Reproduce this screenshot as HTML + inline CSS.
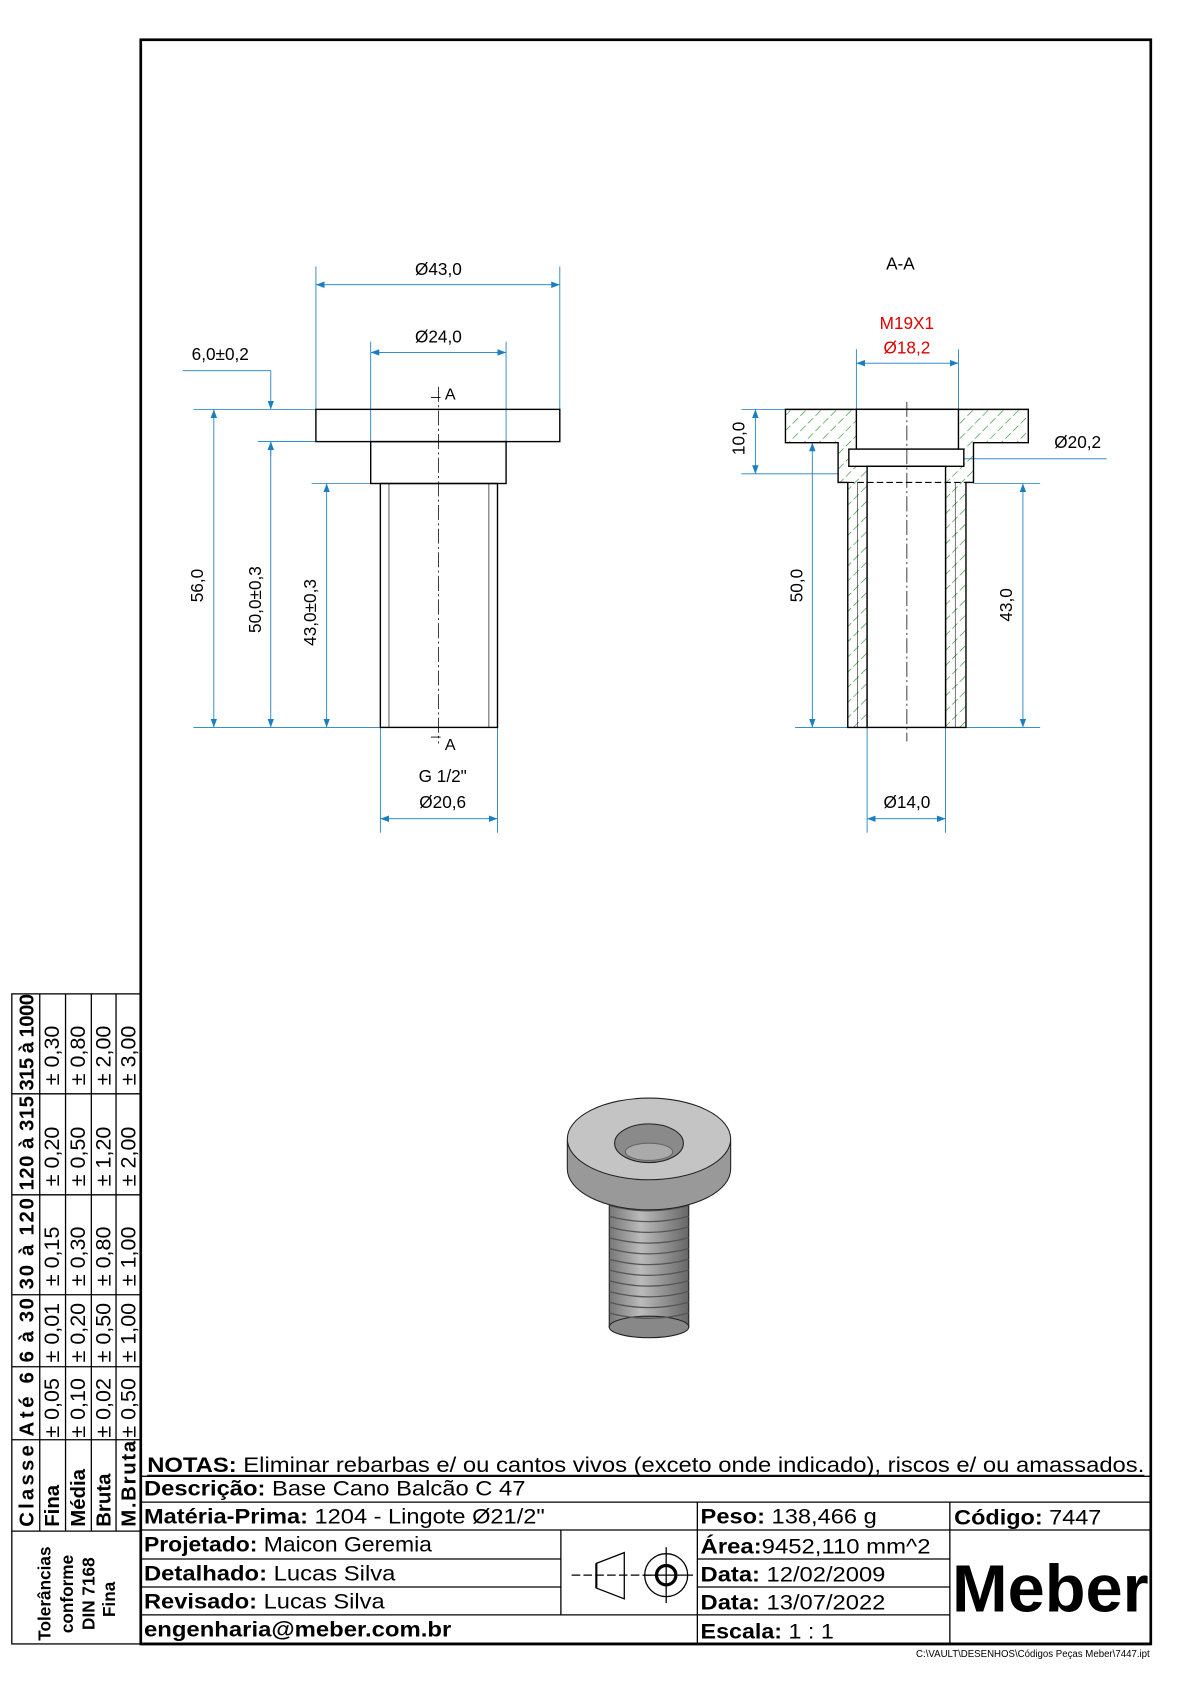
<!DOCTYPE html>
<html><head><meta charset="utf-8"><style>
html,body{margin:0;padding:0;background:#fff}
svg{display:block}
text{font-family:"Liberation Sans",sans-serif}
</style></head><body>
<svg width="1190" height="1684" viewBox="0 0 1107.5 1567.3" preserveAspectRatio="none" xmlns="http://www.w3.org/2000/svg">
<defs>
<pattern id="h" width="10" height="10" patternUnits="userSpaceOnUse" patternTransform="rotate(45)">
<line x1="0" y1="0" x2="0" y2="10" stroke="#1f8a1f" stroke-width="1.1" stroke-dasharray="7,3"/>
</pattern>
<marker id="a" markerWidth="8" markerHeight="6" refX="8" refY="3" orient="auto-start-reverse" markerUnits="userSpaceOnUse"><path d="M0,0 L8,3 L0,6z" fill="#1a7fc0"/></marker>
<linearGradient id="g1" x1="0" x2="1"><stop offset="0" stop-color="#777"/><stop offset=".4" stop-color="#bbb"/><stop offset="1" stop-color="#666"/></linearGradient>
</defs>
<rect width="1107.5" height="1567.3" fill="#fff"/>
<rect x="131" y="37" width="940" height="1493" fill="none" stroke="#000" stroke-width="2.5"/>

<g stroke="#1a7fc0" stroke-width="0.8" fill="none">
<line x1="294" y1="248" x2="294" y2="381"/><line x1="521" y1="248" x2="521" y2="381"/>
<line x1="294" y1="265" x2="521" y2="265" marker-start="url(#a)" marker-end="url(#a)"/>
<line x1="345" y1="318" x2="345" y2="411"/><line x1="471" y1="318" x2="471" y2="411"/>
<line x1="345" y1="328" x2="471" y2="328" marker-start="url(#a)" marker-end="url(#a)"/>
<line x1="180" y1="381" x2="294" y2="381"/><line x1="180" y1="677" x2="354" y2="677"/>
<line x1="240" y1="411" x2="294" y2="411"/><line x1="290" y1="450" x2="354" y2="450"/>
<line x1="199" y1="381" x2="199" y2="677" marker-start="url(#a)" marker-end="url(#a)"/>
<line x1="252" y1="411" x2="252" y2="677" marker-start="url(#a)" marker-end="url(#a)"/>
<line x1="304" y1="450" x2="304" y2="677" marker-start="url(#a)" marker-end="url(#a)"/>
<line x1="170" y1="345" x2="252" y2="345"/><line x1="252" y1="345" x2="252" y2="381" marker-end="url(#a)"/>
<line x1="252" y1="424" x2="252" y2="411" marker-end="url(#a)"/>
<line x1="354" y1="677" x2="354" y2="775"/><line x1="463" y1="677" x2="463" y2="775"/>
<line x1="354" y1="762" x2="463" y2="762" marker-start="url(#a)" marker-end="url(#a)"/>
<line x1="797" y1="325" x2="797" y2="381"/><line x1="892" y1="325" x2="892" y2="381"/>
<line x1="797" y1="338" x2="892" y2="338" marker-start="url(#a)" marker-end="url(#a)"/>
<line x1="690" y1="381" x2="731" y2="381"/><line x1="690" y1="441" x2="780" y2="441"/>
<line x1="703" y1="381" x2="703" y2="441" marker-start="url(#a)" marker-end="url(#a)"/>
<line x1="790" y1="427" x2="1030" y2="427"/>
<line x1="790" y1="427" x2="897" y2="427" marker-start="url(#a)" marker-end="url(#a)"/>
<line x1="906" y1="450" x2="968" y2="450"/><line x1="740" y1="677" x2="968" y2="677"/>
<line x1="756" y1="412" x2="756" y2="677" marker-start="url(#a)" marker-end="url(#a)"/>
<line x1="952" y1="450" x2="952" y2="677" marker-start="url(#a)" marker-end="url(#a)"/>
<line x1="807" y1="677" x2="807" y2="775"/><line x1="880" y1="677" x2="880" y2="775"/>
<line x1="807" y1="762" x2="880" y2="762" marker-start="url(#a)" marker-end="url(#a)"/>
</g>

<g stroke="#000" stroke-width="1.3" fill="none">
<rect x="294" y="381" width="227" height="30"/>
<rect x="345" y="411" width="126" height="39"/>
<rect x="354" y="450" width="109" height="227"/>
<line x1="362" y1="450" x2="362" y2="677" stroke-width="0.6"/><line x1="455" y1="450" x2="455" y2="677" stroke-width="0.6"/>
<line x1="408" y1="360" x2="408" y2="692" stroke-width="0.7" stroke-dasharray="14,3,2,3"/>
<line x1="401" y1="370" x2="410" y2="370" stroke-width="0.8"/><line x1="401" y1="686" x2="410" y2="686" stroke-width="0.8"/>
</g>

<g stroke="#000" stroke-width="1.3">
<path d="M731,381 H957 V412 H906 V449 H899 V677 H880 V449 H807 V677 H789 V449 H780 V412 H731 Z" fill="url(#h)"/>
<rect x="797" y="381" width="95" height="37" fill="#fff"/>
<rect x="790" y="418" width="107" height="16" fill="#fff"/>
<rect x="807" y="434" width="73" height="243" fill="#fff"/>
<line x1="780" y1="449" x2="906" y2="449" stroke-dasharray="6,3" stroke-width="1"/>
<line x1="844" y1="374" x2="844" y2="690" stroke-width="0.7" stroke-dasharray="14,3,2,3"/>
<line x1="798" y1="449" x2="798" y2="677" stroke-width="0.5"/><line x1="889" y1="449" x2="889" y2="677" stroke-width="0.5"/>
</g>

<g font-size="16" fill="#000" text-anchor="middle">
<text x="408" y="256">Ø43,0</text>
<text x="408" y="319">Ø24,0</text>
<text x="205" y="335">6,0±0,2</text>
<text x="419" y="372" font-size="15">A</text>
<text x="419" y="698" font-size="15">A</text>
<text x="412" y="728">G 1/2"</text>
<text x="412" y="752">Ø20,6</text>
<text transform="translate(189,545) rotate(-90)">56,0</text>
<text transform="translate(243,558) rotate(-90)">50,0±0,3</text>
<text transform="translate(294,570) rotate(-90)">43,0±0,3</text>
<text x="838" y="251">A-A</text>
<text x="844" y="306" fill="#e00000">M19X1</text>
<text x="844" y="329" fill="#e00000">Ø18,2</text>
<text transform="translate(693,408) rotate(-90)">10,0</text>
<text x="1003" y="417">Ø20,2</text>
<text transform="translate(747,545) rotate(-90)">50,0</text>
<text transform="translate(942,563) rotate(-90)">43,0</text>
<text x="844" y="752">Ø14,0</text>
</g>

<g stroke="#222" stroke-width="1">
<rect x="567" y="1100" width="74" height="135" fill="url(#g1)"/>
<ellipse cx="604" cy="1235" rx="37" ry="10" fill="#888"/>
<g stroke="#555" stroke-width="1.2" fill="none">
<path d="M567,1112 Q604,1122 641,1112"/><path d="M567,1122 Q604,1132 641,1122"/><path d="M567,1132 Q604,1142 641,1132"/><path d="M567,1142 Q604,1152 641,1142"/><path d="M567,1152 Q604,1162 641,1152"/><path d="M567,1162 Q604,1172 641,1162"/><path d="M567,1172 Q604,1182 641,1172"/><path d="M567,1182 Q604,1192 641,1182"/><path d="M567,1192 Q604,1202 641,1192"/><path d="M567,1202 Q604,1212 641,1202"/><path d="M567,1212 Q604,1222 641,1212"/><path d="M567,1222 Q604,1232 641,1222"/>
</g>
<path d="M528,1062 V1088 A76,38 0 0 0 680,1088 V1062 Z" fill="#999"/>
<ellipse cx="604" cy="1060" rx="76" ry="38" fill="#c4c4c4"/>
<ellipse cx="604" cy="1064" rx="32" ry="18" fill="#8a8a8a"/>
<ellipse cx="604" cy="1072" rx="22" ry="8" fill="#aaa" stroke="#666"/>
</g>

<g stroke="#000" stroke-width="1.2" fill="none">
<rect x="11" y="925" width="120" height="605"/>
<line x1="37" y1="925" x2="37" y2="1425"/><line x1="61" y1="925" x2="61" y2="1425"/><line x1="85" y1="925" x2="85" y2="1425"/><line x1="108" y1="925" x2="108" y2="1425"/>
<line x1="11" y1="1018" x2="131" y2="1018"/><line x1="11" y1="1112" x2="131" y2="1112"/><line x1="11" y1="1205" x2="131" y2="1205"/><line x1="11" y1="1272" x2="131" y2="1272"/><line x1="11" y1="1340" x2="131" y2="1340"/><line x1="11" y1="1425" x2="131" y2="1425"/>
</g>
<g font-size="19" fill="#000">
<g font-weight="bold">
<text transform="translate(31,1015) rotate(-90)" textLength="90">315 à 1000</text>
<text transform="translate(31,1108) rotate(-90)" textLength="88">120 à 315</text>
<text transform="translate(31,1200) rotate(-90)" textLength="85">30 à 120</text>
<text transform="translate(31,1268) rotate(-90)" textLength="60">6 à 30</text>
<text transform="translate(31,1337) rotate(-90)" textLength="60">Até 6</text>
<text transform="translate(31,1421) rotate(-90)" textLength="76">Classe</text>
<text transform="translate(55,1421) rotate(-90)">Fina</text>
<text transform="translate(79,1421) rotate(-90)">Média</text>
<text transform="translate(103,1421) rotate(-90)">Bruta</text>
<text transform="translate(126,1421) rotate(-90)" textLength="80">M.Bruta</text>
<text transform="translate(47,1527) rotate(-90)" font-size="16">Tolerâncias</text>
<text transform="translate(68,1520) rotate(-90)" font-size="16">conforme</text>
<text transform="translate(88,1517) rotate(-90)" font-size="16">DIN 7168</text>
<text transform="translate(107,1505) rotate(-90)" font-size="16">Fina</text>
</g>
<g font-size="20">
<text transform="translate(55,1010) rotate(-90)">± 0,30</text><text transform="translate(79,1010) rotate(-90)">± 0,80</text><text transform="translate(103,1010) rotate(-90)">± 2,00</text><text transform="translate(126,1010) rotate(-90)">± 3,00</text>
<text transform="translate(55,1104) rotate(-90)">± 0,20</text><text transform="translate(79,1104) rotate(-90)">± 0,50</text><text transform="translate(103,1104) rotate(-90)">± 1,20</text><text transform="translate(126,1104) rotate(-90)">± 2,00</text>
<text transform="translate(55,1197) rotate(-90)">± 0,15</text><text transform="translate(79,1197) rotate(-90)">± 0,30</text><text transform="translate(103,1197) rotate(-90)">± 0,80</text><text transform="translate(126,1197) rotate(-90)">± 1,00</text>
<text transform="translate(55,1268) rotate(-90)">± 0,01</text><text transform="translate(79,1268) rotate(-90)">± 0,20</text><text transform="translate(103,1268) rotate(-90)">± 0,50</text><text transform="translate(126,1268) rotate(-90)">± 1,00</text>
<text transform="translate(55,1338) rotate(-90)">± 0,05</text><text transform="translate(79,1338) rotate(-90)">± 0,10</text><text transform="translate(103,1338) rotate(-90)">± 0,02</text><text transform="translate(126,1338) rotate(-90)">± 0,50</text>
</g>
</g>

<g stroke="#000" stroke-width="1.2" fill="none">
<line x1="131" y1="1374" x2="1071" y2="1374"/>
<line x1="131" y1="1398" x2="1071" y2="1398"/>
<line x1="131" y1="1424" x2="1071" y2="1424"/>
<line x1="131" y1="1451" x2="522" y2="1451"/><line x1="131" y1="1477" x2="522" y2="1477"/><line x1="131" y1="1503" x2="884" y2="1503"/>
<line x1="649" y1="1451" x2="884" y2="1451"/><line x1="649" y1="1477" x2="884" y2="1477"/>
<line x1="649" y1="1398" x2="649" y2="1530"/><line x1="884" y1="1398" x2="884" y2="1530"/><line x1="522" y1="1424" x2="522" y2="1503"/>
<line x1="131" y1="1530" x2="1071" y2="1530" stroke-width="2.5"/>
<path d="M555,1455 L581,1445 L581,1488 L555,1478 Z"/>
<line x1="532" y1="1466" x2="612" y2="1466" stroke-dasharray="8,3"/>
<line x1="555" y1="1455" x2="555" y2="1478" stroke-width="2"/>
<circle cx="620" cy="1466" r="20"/><circle cx="620" cy="1466" r="9" stroke-width="3"/>
<line x1="598" y1="1466" x2="645" y2="1466"/><line x1="620" y1="1440" x2="620" y2="1492"/>
</g>
<g font-size="20" fill="#000">
<text x="137" y="1370" textLength="928" lengthAdjust="spacingAndGlyphs"><tspan font-weight="bold">NOTAS:</tspan> Eliminar rebarbas e/ ou cantos vivos (exceto onde indicado), riscos e/ ou amassados.</text>
<line x1="137" y1="1373" x2="1065" y2="1373" stroke="#000" stroke-width="1"/>
<text x="134" y="1392" textLength="355" lengthAdjust="spacingAndGlyphs"><tspan font-weight="bold">Descrição:</tspan> Base Cano Balcão C 47</text>
<text x="134" y="1418" textLength="373" lengthAdjust="spacingAndGlyphs"><tspan font-weight="bold">Matéria-Prima:</tspan> 1204 - Lingote Ø21/2"</text>
<text x="134" y="1444" textLength="268" lengthAdjust="spacingAndGlyphs"><tspan font-weight="bold">Projetado:</tspan> Maicon Geremia</text>
<text x="134" y="1471" textLength="234" lengthAdjust="spacingAndGlyphs"><tspan font-weight="bold">Detalhado:</tspan> Lucas Silva</text>
<text x="134" y="1497" textLength="224" lengthAdjust="spacingAndGlyphs"><tspan font-weight="bold">Revisado:</tspan> Lucas Silva</text>
<text x="134" y="1523" font-weight="bold" textLength="286" lengthAdjust="spacingAndGlyphs">engenharia@meber.com.br</text>
<text x="652" y="1418" textLength="164" lengthAdjust="spacingAndGlyphs"><tspan font-weight="bold">Peso:</tspan> 138,466 g</text>
<text x="652" y="1446" textLength="214" lengthAdjust="spacingAndGlyphs"><tspan font-weight="bold">Área:</tspan>9452,110 mm^2</text>
<text x="652" y="1472" textLength="172" lengthAdjust="spacingAndGlyphs"><tspan font-weight="bold">Data:</tspan> 12/02/2009</text>
<text x="652" y="1498" textLength="172" lengthAdjust="spacingAndGlyphs"><tspan font-weight="bold">Data:</tspan> 13/07/2022</text>
<text x="652" y="1525" textLength="124" lengthAdjust="spacingAndGlyphs"><tspan font-weight="bold">Escala:</tspan> 1 : 1</text>
<text x="888" y="1419" textLength="137" lengthAdjust="spacingAndGlyphs"><tspan font-weight="bold">Código:</tspan> 7447</text>
<text x="886" y="1500" font-size="62" font-weight="bold" textLength="183" lengthAdjust="spacingAndGlyphs">Meber</text>
<text x="1070" y="1542" font-size="9" text-anchor="end">C:\VAULT\DESENHOS\Códigos Peças Meber\7447.ipt</text>
</g>
</svg>
</body></html>
